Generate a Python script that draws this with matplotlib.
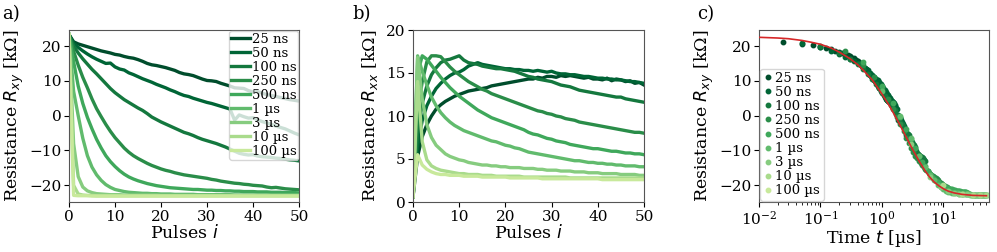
import numpy as np
import matplotlib
matplotlib.use("Agg")
import matplotlib.pyplot as plt

plt.rcParams['font.family'] = ['DejaVu Serif']
plt.rcParams['mathtext.fontset'] = 'dejavusans'

labels = ["25 ns", "50 ns", "100 ns", "250 ns", "500 ns", "1 µs", "3 µs", "10 µs", "100 µs"]
durations_us = [0.025, 0.05, 0.1, 0.25, 0.5, 1.0, 3.0, 10.0, 100.0]
pulses = list(range(51))

rxy_25ns = [23.3, 21.2, 20.6, 20.2, 19.8, 19.4, 19.0, 18.6, 18.3, 18.0, 17.6,
            17.4, 17.0, 16.7, 16.5, 16.1, 15.6, 15.0, 14.6, 14.4, 14.1,
            13.8, 13.4, 13.0, 12.4, 12.0, 11.8, 11.5, 11.0, 10.5, 10.1,
            10.0, 9.8, 9.3, 8.9, 8.5, 8.0, 7.9, 7.8, 7.2, 6.8,
            6.9, 6.5, 6.0, 5.8, 5.5, 5.2, 4.9, 4.6, 4.4, 4.2]
rxy_50ns = [23.3, 20.8, 19.6, 18.6, 17.7, 16.9, 16.2, 15.6, 15.0, 15.1, 14.0,
            13.4, 13.1, 12.3, 11.8, 11.2, 10.6, 10.1, 9.6, 9.0, 8.5,
            8.0, 7.4, 6.9, 6.3, 5.8, 5.5, 5.0, 4.6, 4.2, 3.8,
            3.5, 3.1, 2.7, 2.3, 1.9, -1.3, 0.2, -0.3, -0.7, -0.6,
            -1.2, -1.7, -2.1, -2.5, -3.0, -3.4, -3.8, -4.4, -5.0, -5.5]
rxy_100ns = [23.3, 20.0, 18.0, 16.3, 14.8, 13.3, 12.0, 10.6, 9.2, 7.8, 6.6,
             5.6, 4.6, 3.8, 3.0, 2.2, 1.5, 0.6, -0.4, -1.1, -1.8,
             -2.4, -3.0, -3.6, -4.2, -4.8, -5.2, -5.7, -6.3, -6.8, -7.2,
             -7.6, -8.0, -8.5, -9.0, -9.6, -10.2, -10.8, -11.1, -11.3, -11.2,
             -11.6, -11.8, -11.9, -12.0, -12.2, -12.3, -12.5, -12.7, -12.8, -13.0]
rxy_250ns = [23.3, 18.5, 14.5, 11.0, 8.0, 4.8, 2.0, -0.3, -2.5, -4.5, -6.3,
             -7.8, -9.3, -10.5, -11.5, -12.3, -13.0, -13.7, -14.3, -14.8, -15.3,
             -15.7, -16.0, -16.4, -16.7, -17.0, -17.2, -17.4, -17.6, -17.8, -18.0,
             -18.3, -18.5, -18.8, -19.0, -19.2, -19.4, -19.5, -19.7, -19.8, -20.0,
             -20.1, -20.2, -20.5, -20.7, -20.6, -20.8, -21.0, -21.1, -21.2, -21.3]
rxy_500ns = [23.3, 15.5, 8.5, 3.5, -0.5, -3.8, -6.8, -9.3, -11.5, -13.2, -14.6,
             -15.8, -16.8, -17.6, -18.2, -18.7, -19.1, -19.5, -19.8, -20.1, -20.3,
             -20.5, -20.7, -20.8, -20.9, -21.0, -21.1, -21.2, -21.2, -21.3, -21.4,
             -21.4, -21.5, -21.5, -21.6, -21.6, -21.7, -21.7, -21.8, -21.8, -21.8,
             -21.9, -21.9, -21.9, -22.0, -22.0, -22.0, -22.1, -22.1, -22.1, -22.2]
rxy_1us = [23.3, 7.0, 0.0, -6.5, -11.5, -14.8, -17.0, -18.6, -19.8, -20.6, -21.2,
           -21.5, -21.8, -22.0, -22.1, -22.2, -22.3, -22.3, -22.4, -22.4, -22.5,
           -22.5, -22.5, -22.6, -22.6, -22.6, -22.6, -22.6, -22.7, -22.7, -22.7,
           -22.7, -22.7, -22.7, -22.7, -22.7, -22.8, -22.8, -22.8, -22.8, -22.8,
           -22.8, -22.8, -22.8, -22.8, -22.8, -22.8, -22.8, -22.8, -22.8, -22.8]
rxy_3us = [23.3, -8.0, -17.5, -20.5, -21.6, -22.1, -22.4, -22.5, -22.6, -22.7, -22.7,
           -22.7, -22.8, -22.8, -22.8, -22.8, -22.8, -22.8, -22.8, -22.8, -22.9,
           -22.9, -22.9, -22.9, -22.9, -22.9, -22.9, -22.9, -22.9, -22.9, -22.9,
           -22.9, -22.9, -22.9, -22.9, -22.9, -22.9, -22.9, -22.9, -22.9, -22.9,
           -22.9, -22.9, -22.9, -22.9, -22.9, -22.9, -22.9, -22.9, -22.9, -22.9]
rxy_10us = [23.3, -20.0, -22.5, -22.8, -22.9, -22.9, -23.0, -23.0, -23.0, -23.0, -23.0,
            -23.0, -23.0, -23.0, -23.0, -23.0, -23.0, -23.0, -23.0, -23.0, -23.0,
            -23.0, -23.0, -23.0, -23.0, -23.0, -23.0, -23.0, -23.0, -23.0, -23.0,
            -23.0, -23.0, -23.0, -23.0, -23.0, -23.0, -23.0, -23.0, -23.0, -23.0,
            -23.0, -23.0, -23.0, -23.0, -23.0, -23.0, -23.0, -23.0, -23.0, -23.0]
rxy_100us = [23.3, -22.9, -23.0, -23.0, -23.0, -23.1, -23.1, -23.1, -23.1, -23.1, -23.1,
             -23.1, -23.1, -23.1, -23.1, -23.1, -23.1, -23.1, -23.1, -23.1, -23.1,
             -23.1, -23.1, -23.1, -23.1, -23.1, -23.1, -23.1, -23.1, -23.1, -23.1,
             -23.1, -23.1, -23.1, -23.1, -23.1, -23.1, -23.1, -23.1, -23.1, -23.1,
             -23.1, -23.1, -23.1, -23.1, -23.1, -23.1, -23.1, -23.1, -23.1, -23.1]

rxx_25ns = [0.6, 5.3, 7.6, 9.0, 10.0, 10.8, 11.3, 11.7, 12.0, 12.3, 12.5,
            12.7, 12.9, 13.0, 13.1, 13.2, 13.3, 13.5, 13.6, 13.7, 13.8,
            13.9, 14.0, 14.1, 14.2, 14.3, 14.3, 14.5, 14.4, 14.6, 14.6,
            14.5, 14.7, 14.6, 14.7, 14.6, 14.5, 14.4, 14.5, 14.3, 14.3,
            14.2, 14.4, 14.1, 14.3, 14.2, 14.0, 14.1, 13.8, 13.9, 13.6]
rxx_50ns = [0.6, 6.5, 9.5, 11.2, 12.3, 13.2, 13.8, 14.3, 14.7, 15.0, 15.1,
            15.4, 15.8, 16.0, 16.2, 16.0, 15.9, 15.8, 15.7, 15.6, 15.5,
            15.5, 15.4, 15.4, 15.3, 15.3, 15.2, 15.3, 15.2, 15.1, 15.2,
            15.0, 14.9, 14.9, 14.8, 14.8, 14.7, 14.6, 14.6, 14.5, 14.4,
            14.4, 14.3, 14.3, 14.2, 14.2, 14.1, 14.0, 14.0, 13.9, 13.8]
rxx_100ns = [0.6, 8.0, 11.5, 13.5, 14.8, 15.6, 16.2, 16.5, 16.6, 16.8, 17.0,
             16.5, 16.2, 16.1, 16.0, 15.8, 15.7, 15.6, 15.5, 15.5, 15.4,
             15.3, 15.2, 15.0, 14.8, 14.6, 14.5, 14.3, 14.2, 14.1, 14.0,
             13.8, 13.6, 13.5, 13.4, 13.2, 13.0, 12.9, 12.8, 12.7, 12.6,
             12.5, 12.4, 12.3, 12.2, 12.2, 12.0, 11.9, 11.8, 11.7, 11.6]
rxx_250ns = [0.6, 10.5, 14.0, 16.3, 17.0, 17.0, 16.9, 16.3, 15.7, 15.2, 14.8,
             14.4, 14.0, 13.7, 13.4, 13.1, 12.9, 12.6, 12.4, 12.2, 12.0,
             11.8, 11.6, 11.4, 11.2, 11.0, 10.8, 10.6, 10.5, 10.3, 10.2,
             10.0, 9.9, 9.7, 9.6, 9.5, 9.3, 9.2, 9.1, 9.0, 8.9,
             8.8, 8.7, 8.6, 8.5, 8.4, 8.3, 8.2, 8.1, 8.1, 8.0]
rxx_500ns = [0.6, 15.0, 17.0, 16.6, 15.9, 15.2, 14.5, 13.9, 13.3, 12.8, 12.3,
             11.9, 11.5, 11.1, 10.7, 10.4, 10.1, 9.8, 9.6, 9.4, 9.2,
             9.0, 8.8, 8.6, 8.4, 8.1, 7.9, 7.8, 7.6, 7.4, 7.3,
             7.1, 7.0, 6.9, 6.7, 6.6, 6.5, 6.4, 6.3, 6.2, 6.2,
             6.1, 6.0, 5.9, 5.9, 5.8, 5.7, 5.7, 5.6, 5.6, 5.5]
rxx_1us = [0.6, 17.0, 15.2, 13.6, 12.2, 11.2, 10.4, 9.8, 9.3, 8.9, 8.6,
           8.3, 8.1, 7.9, 7.7, 7.5, 7.3, 7.1, 7.0, 6.8, 6.6,
           6.5, 6.3, 6.2, 6.0, 5.8, 5.7, 5.6, 5.5, 5.4, 5.3,
           5.2, 5.1, 5.0, 4.9, 4.8, 4.8, 4.7, 4.6, 4.6, 4.5,
           4.5, 4.4, 4.4, 4.3, 4.3, 4.2, 4.2, 4.2, 4.1, 4.1]
rxx_3us = [0.6, 16.8, 12.0, 9.0, 7.5, 6.6, 6.1, 5.6, 5.3, 5.1, 4.9,
           4.8, 4.6, 4.5, 4.4, 4.3, 4.3, 4.2, 4.2, 4.1, 4.1,
           4.0, 4.0, 4.0, 3.9, 3.9, 3.9, 3.8, 3.8, 3.7, 3.7,
           3.7, 3.6, 3.6, 3.6, 3.5, 3.5, 3.5, 3.4, 3.4, 3.4,
           3.3, 3.3, 3.3, 3.3, 3.2, 3.2, 3.2, 3.2, 3.1, 3.1]
rxx_10us = [0.6, 14.0, 7.0, 4.9, 4.2, 3.9, 3.7, 3.6, 3.5, 3.4, 3.3,
            3.3, 3.2, 3.2, 3.2, 3.1, 3.1, 3.1, 3.0, 3.0, 3.0,
            3.0, 3.0, 3.0, 2.9, 2.9, 2.9, 2.9, 2.9, 2.9, 2.9,
            2.9, 2.9, 2.9, 2.8, 2.8, 2.8, 2.8, 2.8, 2.8, 2.8,
            2.8, 2.8, 2.8, 2.8, 2.8, 2.8, 2.8, 2.8, 2.8, 2.8]
rxx_100us = [0.6, 5.5, 4.3, 3.8, 3.5, 3.3, 3.2, 3.2, 3.1, 3.1, 3.1,
             3.0, 3.0, 3.0, 3.0, 2.9, 2.9, 2.9, 2.9, 2.9, 2.9,
             2.8, 2.8, 2.8, 2.8, 2.8, 2.8, 2.8, 2.7, 2.7, 2.7,
             2.7, 2.7, 2.7, 2.7, 2.7, 2.7, 2.7, 2.7, 2.7, 2.7,
             2.6, 2.6, 2.6, 2.6, 2.6, 2.6, 2.6, 2.6, 2.6, 2.6]

fit_t = [0.01, 0.02, 0.03, 0.05, 0.07, 0.1, 0.15, 0.2, 0.3, 0.4, 0.5, 0.7, 1.0, 1.3,
         1.6, 2.0, 2.5, 3.0, 4.0, 5.0, 6.0, 7.0, 8.5, 10, 12, 15, 20, 30, 50]
fit_R = [22.5, 22.3, 22.1, 21.6, 21.1, 20.5, 19.4, 18.3, 16.4, 14.7, 13.0, 10.2, 6.2, 3.0,
         0.2, -3.0, -6.3, -9.0, -13.0, -15.8, -17.7, -19.0, -20.2, -21.0, -21.7, -22.2, -22.6, -22.9, -23.0]

rxy_all = [rxy_25ns, rxy_50ns, rxy_100ns, rxy_250ns, rxy_500ns, rxy_1us, rxy_3us, rxy_10us, rxy_100us]
rxx_all = [rxx_25ns, rxx_50ns, rxx_100ns, rxx_250ns, rxx_500ns, rxx_1us, rxx_3us, rxx_10us, rxx_100us]

colors = plt.cm.YlGn(np.linspace(0.97, 0.3, 9))

fig = plt.figure(figsize=(9.97, 2.52), dpi=100)
H = 252.0
W = 997.0
def box(x0, x1, y0, y1):
    return [x0 / W, 1 - y1 / H, (x1 - x0) / W, (y1 - y0) / H]

axa = fig.add_axes(box(69, 299, 30, 202))
axb = fig.add_axes(box(413, 644, 30, 202))
axc = fig.add_axes(box(759, 989, 30, 202))

lw = 2.4
for k in range(9):
    axa.plot(pulses, rxy_all[k], color=colors[k], lw=lw, label=labels[k])
    axb.plot(pulses, rxx_all[k], color=colors[k], lw=lw, label=labels[k])
    t = np.array(pulses[1:]) * durations_us[k]
    axc.plot(t, rxy_all[k][1:], 'o', ms=3.2, color=colors[k], label=labels[k], lw=0)

axc.plot(fit_t, fit_R, color='#d62728', lw=1.2, zorder=5)

lab_fs = 12.5
for ax in (axa, axb):
    ax.set_xlim(0, 50)
    ax.set_xlabel(r"Pulses $i$", fontsize=lab_fs, labelpad=0)
axa.set_ylim(-24.8, 24.6)
axc.set_ylim(-24.8, 24.6)
axb.set_ylim(0, 20)
axa.set_ylabel(r"Resistance $R_{xy}$ [kΩ]", fontsize=lab_fs, labelpad=2)
axb.set_ylabel(r"Resistance $R_{xx}$ [kΩ]", fontsize=lab_fs, labelpad=4)
axc.set_ylabel(r"Resistance $R_{xy}$ [kΩ]", fontsize=lab_fs, labelpad=2)
axc.set_xscale('log')
axc.set_xlim(1e-2, 55)
axc.set_xlabel(r"Time $t$ [µs]", fontsize=lab_fs, labelpad=0)
axa.set_yticks([-20, -10, 0, 10, 20])
axc.set_yticks([-20, -10, 0, 10, 20])
axb.set_yticks([0, 5, 10, 15, 20])

for ax in (axa, axb, axc):
    ax.tick_params(labelsize=11, length=3.5, width=0.8, pad=2)
    for s in ax.spines.values():
        s.set_color('#555555')

leg = axa.legend(loc='upper right', fontsize=9.5, handlelength=1.45, handletextpad=0.1,
                 labelspacing=0.08, borderpad=0.15, borderaxespad=0.05, framealpha=0.8,
                 fancybox=True)
leg2 = axc.legend(loc='lower left', fontsize=9.5, handlelength=0.6, handletextpad=0.3,
                  labelspacing=0.08, borderpad=0.25, borderaxespad=0.1, framealpha=0.8,
                  markerscale=1.0)

fig.text(2 / W, 1 - 14 / H, "a)", fontsize=13, va='center')
fig.text(352 / W, 1 - 14 / H, "b)", fontsize=13, va='center')
fig.text(697 / W, 1 - 14 / H, "c)", fontsize=13, va='center')

fig.savefig("out.png", dpi=100)
